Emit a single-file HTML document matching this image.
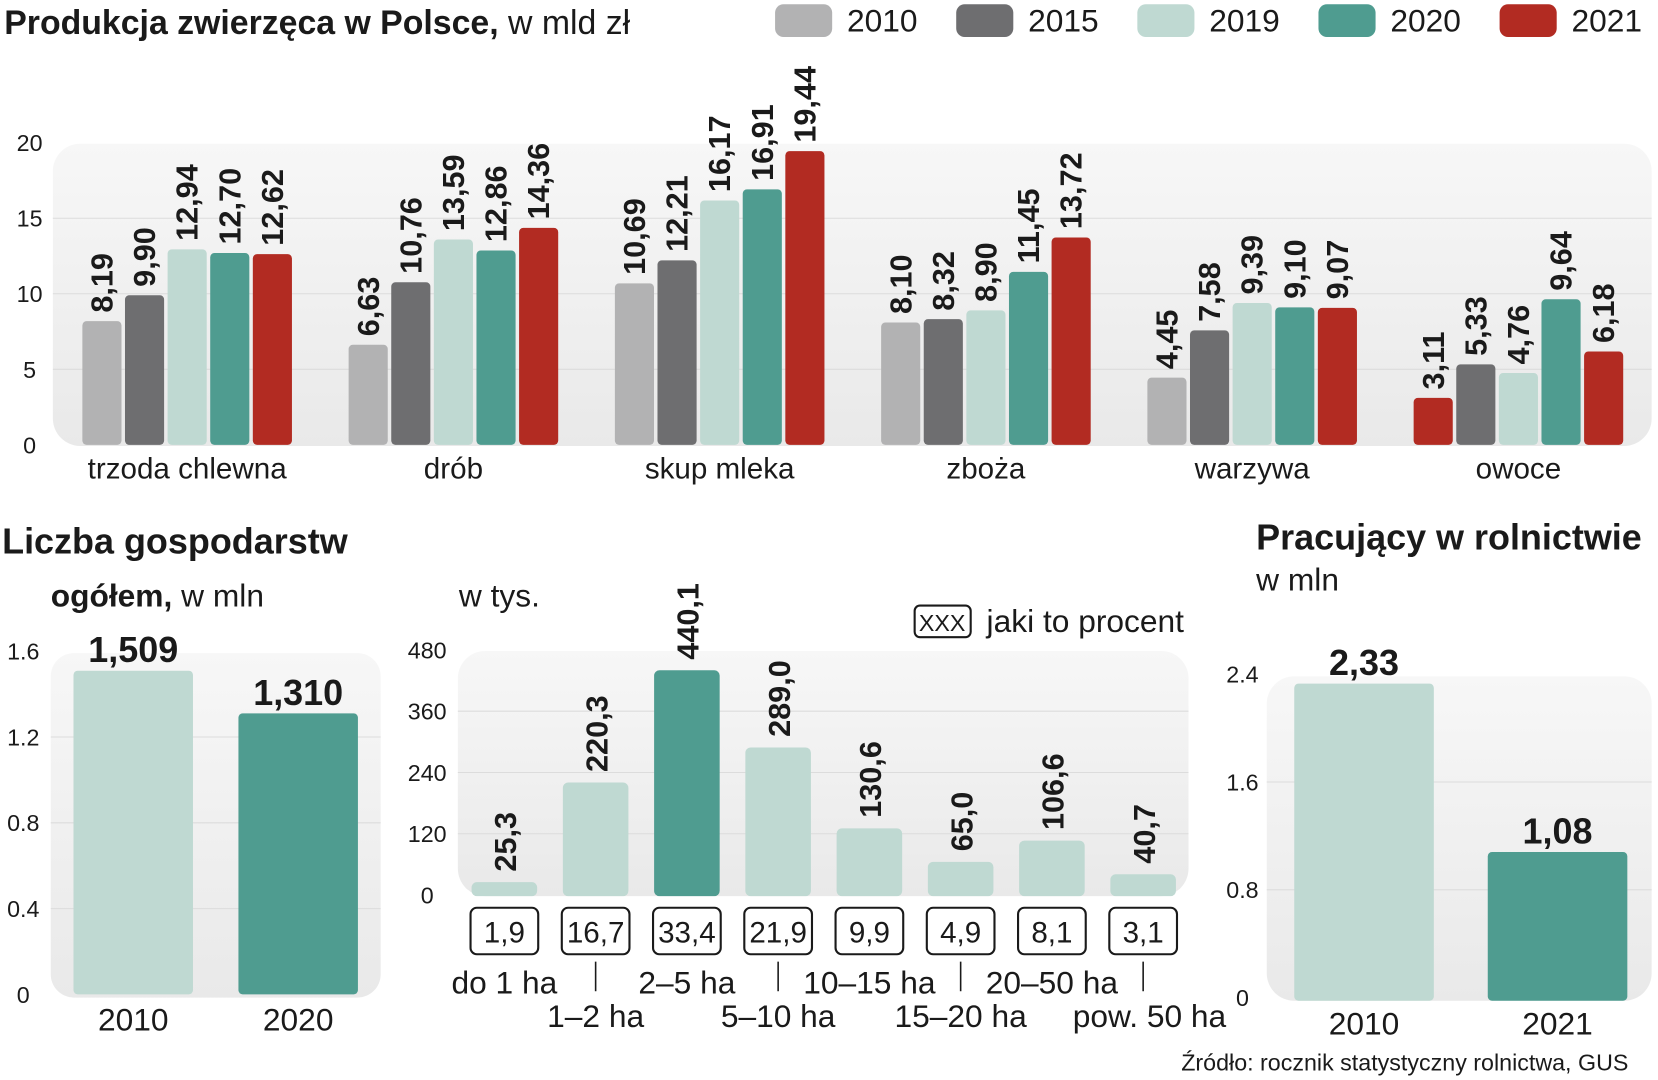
<!DOCTYPE html>
<html><head><meta charset="utf-8"><style>
html,body{margin:0;padding:0;background:#fff;}
svg{display:block;}
text{font-family:"Liberation Sans Narrow","Liberation Sans",sans-serif;fill:#1a1a1a;}
.b{font-weight:bold;}
</style></head><body>
<svg id="s" width="1658" height="1080" viewBox="0 0 1568 1022" preserveAspectRatio="none" xmlns="http://www.w3.org/2000/svg">
<defs>
<linearGradient id="pg" x1="0" y1="0" x2="0" y2="1"><stop offset="0" stop-color="#f7f7f7"/><stop offset="1" stop-color="#e9e9e9"/></linearGradient>
</defs>
<text x="4" y="32" font-size="32"><tspan class="b">Produkcja zwierzęca w Polsce,</tspan> w mld zł</text>
<g id="legend"></g>
<g id="topchart"></g>
<text x="2" y="524" font-size="34" class="b">Liczba gospodarstw</text>
<text x="48" y="574" font-size="30"><tspan class="b">ogółem,</tspan> w mln</text>
<g id="bl"></g>
<text x="434" y="574" font-size="30">w tys.</text>
<rect x="865" y="573" width="53" height="30" rx="5" fill="#fff" stroke="#1a1a1a" stroke-width="2"/>
<text x="891" y="597" font-size="22" text-anchor="middle">XXX</text>
<text x="933" y="598" font-size="30">jaki to procent</text>
<g id="bm"></g>
<text x="1188" y="520" font-size="34" class="b">Pracujący w rolnictwie</text>
<text x="1188" y="559" font-size="30">w mln</text>
<g id="br"></g>
<text x="1540" y="1013" font-size="22" text-anchor="end">Źródło: rocznik statystyczny rolnictwa, GUS</text>
</svg>
<script>
// ---- top chart data ----
const categories = ["trzoda chlewna","drób","skup mleka","zboża","warzywa","owoce"];
const years = ["2010","2015","2019","2020","2021"];
const s2010 = [8.19,6.63,10.69,8.10,4.45,3.11];
const s2015 = [9.90,10.76,12.21,8.32,7.58,5.33];
const s2019 = [12.94,13.59,16.17,8.90,9.39,4.76];
const s2020 = [12.70,12.86,16.91,11.45,9.10,9.64];
const s2021 = [12.62,14.36,19.44,13.72,9.07,6.18];
const topTicks = [0,5,10,15,20];
// ---- farms total ----
const totalYears = ["2010","2020"];
const totalValues = [1.509,1.310];
const totalLabels = ["1,509","1,310"];
const totalTicks = ["0","0.4","0.8","1.2","1.6"];
// ---- farms by size ----
const sizeValues = [25.3,220.3,440.1,289.0,130.6,65.0,106.6,40.7];
const sizeLabels = ["25,3","220,3","440,1","289,0","130,6","65,0","106,6","40,7"];
const sizePercents = ["1,9","16,7","33,4","21,9","9,9","4,9","8,1","3,1"];
const sizeNames = ["do 1 ha","1–2 ha","2–5 ha","5–10 ha","10–15 ha","15–20 ha","20–50 ha","pow. 50 ha"];
const sizeTicks = [0,120,240,360,480];
// ---- workers ----
const workYears = ["2010","2021"];
const workValues = [2.33,1.08];
const workLabels = ["2,33","1,08"];
const workTicks = ["0","0.8","1.6","2.4"];

const NS="http://www.w3.org/2000/svg";
const C={y2010:"#b2b2b3",y2015:"#6e6e70",y2019:"#bfd9d2",y2020:"#4f9c90",y2021:"#b22b22"};
const colors=[C.y2010,C.y2015,C.y2019,C.y2020,C.y2021];
function el(parent,tag,attrs,txt){const e=document.createElementNS(NS,tag);for(const k in attrs)e.setAttribute(k,attrs[k]);if(txt!==undefined)e.textContent=txt;parent.appendChild(e);return e;}

// legend
const lg=document.getElementById('legend');
years.forEach((y,i)=>{const x=733+i*171.3;
 const r=el(lg,'rect',{x:x,y:4,width:54,height:31,rx:8,fill:colors[i]});
 
 
 const t=el(lg,'text',{x:x+68,y:30,'font-size':30},y);
 
 
});

// top chart
const topG=document.getElementById('topchart');
const tY=v=>421-v*14.3;
const p=el(topG,'rect',{x:50,y:136,width:1512,height:286,rx:26,fill:'url(#pg)'});


topTicks.forEach(v=>{
 if(v>0&&v<20){const g=el(topG,'line',{x1:50,x2:1562,y1:tY(v),y2:tY(v),stroke:'#dcdcdc','stroke-width':1});
  
  }
 const t=el(topG,'text',{x:28,y:tY(v)+8,'font-size':22,'text-anchor':'middle',fill:'#333'},String(v));
 
 
});
const series=[s2010,s2015,s2019,s2020,s2021];
categories.forEach((c,ci)=>{
 const cx=177+ci*251.8;
 series.forEach((s,si)=>{
  const v=s[ci];const bx=cx+(si-2)*40.3;
  let col=colors[si];
  if(ci===5&&si===0)col=C.y2021;
  const b=el(topG,'rect',{x:bx-18.5,y:tY(v),width:37,height:421-tY(v),rx:4,fill:col});
  
  
  const ly=tY(v)-8;
  const t=el(topG,'text',{x:0,y:0,'font-size':29,class:'b',transform:`translate(${bx+10},${ly}) rotate(-90)`},v.toFixed(2).replace('.',','));
  
  
 });
 const t=el(topG,'text',{x:cx,y:453,'font-size':28,'text-anchor':'middle'},c);
 
 
});

// bottom left
const bl=document.getElementById('bl');
const lY=v=>941-v*203;
const p2=el(bl,'rect',{x:48,y:618,width:312,height:326,rx:22,fill:'url(#pg)'});


totalTicks.forEach((tk,i)=>{const v=parseFloat(tk);
 if(i>0&&i<4){const g=el(bl,'line',{x1:48,x2:360,y1:lY(v),y2:lY(v),stroke:'#dcdcdc'});
  
  }
 const t=el(bl,'text',{x:22,y:lY(v)+8,'font-size':22,'text-anchor':'middle',fill:'#333'},tk);
 
 
});
totalValues.forEach((v,i)=>{const cx=126+i*156;
 const b=el(bl,'rect',{x:cx-56.5,y:lY(v),width:113,height:941-lY(v),rx:4,fill:i?C.y2020:C.y2019});
 
 
 const t=el(bl,'text',{x:cx,y:lY(v)-8,'font-size':34,class:'b','text-anchor':'middle'},totalLabels[i]);
 
 
 const x=el(bl,'text',{x:cx,y:975,'font-size':30,'text-anchor':'middle'},totalYears[i]);
 
 
});

// bottom middle
const bm=document.getElementById('bm');
const mY=v=>847-v*(232/480);
const p3=el(bm,'rect',{x:433,y:616,width:691,height:232,rx:26,fill:'url(#pg)'});


sizeTicks.forEach((v,i)=>{
 if(i>0&&i<4){const g=el(bm,'line',{x1:433,x2:1124,y1:mY(v),y2:mY(v),stroke:'#dcdcdc'});
  
  }
 const t=el(bm,'text',{x:404,y:mY(v)+8,'font-size':22,'text-anchor':'middle',fill:'#333'},String(v));
 
 
});
sizeValues.forEach((v,i)=>{const cx=477+i*86.3;
 const b=el(bm,'rect',{x:cx-31,y:mY(v),width:62,height:848-mY(v),rx:5,fill:i===2?C.y2020:C.y2019});
 
 
 const t=el(bm,'text',{x:0,y:0,'font-size':29,class:'b',transform:`translate(${cx+11},${mY(v)-10}) rotate(-90)`},sizeLabels[i]);
 
 
 const r=el(bm,'rect',{x:cx-32,y:859,width:64,height:44,rx:6,fill:'#fff',stroke:'#1a1a1a','stroke-width':2});
 
 
 const pt=el(bm,'text',{x:cx,y:892,'font-size':28,'text-anchor':'middle'},sizePercents[i]);
 
 
 const row=i%2;
 if(row===1){const ln=el(bm,'line',{x1:cx,x2:cx,y1:910,y2:938,stroke:'#1a1a1a','stroke-width':1.5});
  
  }
 const nx=i===7?cx+6:cx;
 const n=el(bm,'text',{x:nx,y:row?972:940,'font-size':30,'text-anchor':'middle'},sizeNames[i]);
 
 
});

// bottom right
const br=document.getElementById('br');
const rY=v=>944-v*(306/2.4);
const p4=el(br,'rect',{x:1198,y:640,width:364,height:307,rx:26,fill:'url(#pg)'});


workTicks.forEach((tk,i)=>{const v=parseFloat(tk);
 if(i>0&&i<3){const g=el(br,'line',{x1:1198,x2:1562,y1:rY(v),y2:rY(v),stroke:'#dcdcdc'});
  
  }
 const t=el(br,'text',{x:1175,y:rY(v)+8,'font-size':22,'text-anchor':'middle',fill:'#333'},tk);
 
 
});
workValues.forEach((v,i)=>{const cx=1290+i*183;
 const b=el(br,'rect',{x:cx-66,y:rY(v),width:132,height:947-rY(v),rx:4,fill:i?C.y2020:C.y2019});
 
 
 const t=el(br,'text',{x:cx,y:rY(v)-8,'font-size':34,class:'b','text-anchor':'middle'},workLabels[i]);
 
 
 const x=el(br,'text',{x:cx,y:979,'font-size':30,'text-anchor':'middle'},workYears[i]);
 
 
});
</script>
</body></html>
